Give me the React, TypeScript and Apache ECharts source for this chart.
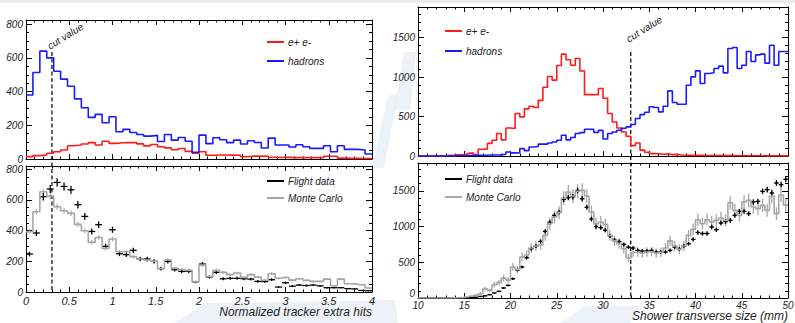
import React, { useEffect, useRef } from "react";
import * as echarts from "echarts";

// Normalized tracker extra hits: 50 bins of width 0.08 starting at 0
const trackerStart = 0;
const trackerBinWidth = 0.08;
const trackerCut = 0.3;
const trackerElectrons = [
  14, 20, 24, 34, 43, 53, 79, 83, 89, 97,
  83, 105, 93, 96, 98, 97, 90, 78, 86, 73,
  66, 55, 62, 45, 34, 43, 22, 24, 24, 23,
  22, 13, 17, 18, 16, 10, 9, 10, 8, 9,
  8, 9, 7, 16, 16, 5, 4, 4, 3, 3,
];
const trackerHadrons = [
  380, 513, 640, 600, 521, 474, 432, 357, 304, 247,
  265, 215, 251, 162, 176, 157, 145, 136, 140, 104,
  145, 112, 128, 105, 40, 142, 91, 126, 114, 97,
  112, 89, 108, 98, 65, 124, 83, 83, 71, 85,
  73, 63, 63, 79, 43, 79, 57, 57, 53, 30,
];
const trackerFlight = [
  247, 384, 620, 670, 713, 687, 665, 568, 492, 394,
  438, 297, 405, 249, 243, 271, 215, 215, 199, 152,
  199, 145, 134, 134, 65, 182, 97, 128, 86, 89,
  89, 86, 84, 69, 68, 80, 32, 60, 38, 45,
  42, 45, 40, 28, 28, 28, 22, 20, 10, 8,
];
const trackerMonteCarlo = [
  392, 522, 652, 624, 555, 529, 512, 440, 399, 323,
  355, 284, 345, 262, 262, 230, 215, 208, 200, 153,
  208, 154, 146, 141, 66, 175, 100, 141, 128, 113,
  124, 95, 113, 97, 76, 119, 89, 94, 77, 86,
  76, 69, 69, 84, 41, 84, 54, 52, 47, 26,
];

// Shower transverse size (mm): 80 bins of width 0.5 mm starting at 10
const showerStart = 10;
const showerBinWidth = 0.5;
const showerCut = 33;
const showerElectrons = [
  0, 0, 0, 0, 2, 3, 8, 5, 14, 16,
  26, 36, 16, 85, 90, 160, 200, 285, 205, 356,
  348, 539, 496, 598, 632, 615, 705, 872, 1008, 962,
  1148, 1292, 1220, 1152, 1237, 1078, 778, 778, 778, 856,
  732, 539, 432, 356, 305, 250, 132, 165, 75, 48,
  30, 28, 22, 26, 18, 20, 12, 10, 9, 8,
  8, 7, 7, 6, 6, 5, 5, 5, 4, 4,
  4, 3, 3, 3, 3, 2, 2, 2, 2, 2,
];
const showerHadrons = [
  0, 0, 0, 0, 0, 0, 2, 2, 4, 5,
  6, 8, 8, 10, 9, 12, 12, 14, 22, 50,
  40, 38, 93, 68, 115, 120, 150, 150, 165, 178,
  200, 263, 205, 234, 285, 297, 339, 339, 300, 325,
  215, 285, 305, 327, 352, 369, 399, 475, 525, 555,
  625, 615, 560, 632, 826, 678, 657, 657, 898, 1004,
  1080, 920, 1047, 1055, 1110, 1140, 1055, 1364, 1377, 1110,
  1152, 1325, 1199, 1283, 1292, 1178, 1405, 1152, 1325, 1325,
];
const showerFlight = [
  0, 0, 0, 0, 0, 0, 0, 0, 2, 3,
  3, 5, 10, 22, 30, 46, 70, 93, 140, 177,
  270, 390, 434, 564, 690, 728, 793, 933, 1060, 1157,
  1202, 1380, 1405, 1418, 1505, 1390, 1270, 1105, 1000, 985,
  950, 870, 810, 790, 750, 712, 700, 667, 658, 658,
  667, 644, 644, 644, 667, 714, 686, 728, 761, 821,
  917, 903, 903, 994, 957, 1050, 1070, 1087, 1157, 1213,
  1213, 1181, 1344, 1353, 1493, 1517, 1470, 1610, 1587, 1661,
];
const showerMonteCarlo = [
  0, 0, 0, 0, 0, 0, 0, 2, 3, 5,
  15, 25, 37, 60, 130, 107, 187, 215, 278, 250,
  434, 397, 574, 603, 700, 728, 747, 877, 1041, 1134,
  1195, 1400, 1484, 1428, 1495, 1507, 1425, 1204, 1041, 1064,
  1031, 877, 800, 761, 690, 560, 640, 644, 627, 644,
  650, 630, 640, 700, 800, 730, 681, 728, 877, 961,
  1096, 1040, 1096, 1064, 1087, 1119, 1087, 1335, 1227, 1157,
  1344, 1367, 1274, 1251, 1297, 1227, 1429, 1181, 1443, 1300,
];

const legendSpecies = ["e+ e-", "hadrons"];
const legendCompare = ["Flight data", "Monte Carlo"];
const trackerTitle = "Normalized tracker extra hits";
const showerTitle = "Shower transverse size (mm)";
const cutLabel = "cut value";

const RED = "#ff1a1a";
const BLUE = "#1a1aff";
const GREY = "#a6a6a6";
const INK = "#000000";
const TEXT = "#222222";
const FONT = '"Liberation Sans", Arial, Helvetica, sans-serif';

// relative size of the simulated-sample error bars (statistical, scaled)
const trackerMcErrScale = 0.8;
const showerMcErrScale = 2.6;

function stepPoints(start: number, width: number, values: number[]) {
  const pts = values.map((v, i) => [start + i * width, v]);
  pts.push([start + values.length * width, values[values.length - 1]]);
  return pts;
}

function crossPoints(start: number, width: number, values: number[]) {
  return values.map((v, i) => [start + i * width, start + (i + 1) * width, v, Math.sqrt(v)]);
}

function errPoints(start: number, width: number, values: number[], scale: number) {
  return values.map((v, i) => [start + (i + 0.5) * width, v, scale * Math.sqrt(v)]);
}

function crossRender(color: string, lw: number) {
  return (_p: any, api: any) => {
    const x0 = api.value(0);
    const x1 = api.value(1);
    const y = api.value(2);
    const e = api.value(3);
    const a = api.coord([x0, y]);
    const b = api.coord([x1, y]);
    const t = api.coord([(x0 + x1) / 2, y + e]);
    const d = api.coord([(x0 + x1) / 2, y - e]);
    const style = { stroke: color, lineWidth: lw };
    return {
      type: "group",
      children: [
        { type: "line", shape: { x1: a[0], y1: a[1], x2: b[0], y2: b[1] }, style },
        { type: "line", shape: { x1: t[0], y1: t[1], x2: d[0], y2: d[1] }, style },
      ],
    };
  };
}

function errRender(color: string, lw: number) {
  return (_p: any, api: any) => {
    const x = api.value(0);
    const y = api.value(1);
    const e = api.value(2);
    const t = api.coord([x, y + e]);
    const d = api.coord([x, y - e]);
    return {
      type: "line",
      shape: { x1: t[0], y1: t[1], x2: d[0], y2: d[1] },
      style: { stroke: color, lineWidth: lw },
    };
  };
}

function axis(
  kind: "x" | "y",
  gridIndex: number,
  position: string,
  min: number,
  max: number,
  interval: number,
  minorSplit: number,
  label: any,
  extra: any = {}
) {
  const tickLen = kind === "x" ? 5 : 6;
  return {
    type: "value",
    gridIndex,
    position,
    min,
    max,
    interval,
    axisLine: { show: true, onZero: false, lineStyle: { color: INK, width: 1 } },
    axisTick: { show: true, inside: true, length: tickLen, lineStyle: { color: INK, width: 1 } },
    minorTick: { show: true, splitNumber: minorSplit, length: tickLen / 2, lineStyle: { color: INK, width: 1 } },
    splitLine: { show: false },
    minorSplitLine: { show: false },
    axisLabel: label
      ? {
          show: true,
          inside: false,
          margin: label.margin,
          fontSize: label.size,
          fontStyle: "italic",
          fontFamily: FONT,
          color: TEXT,
          showMinLabel: true,
          showMaxLabel: label.showMax !== false,
          ...(label.lift ? { verticalAlignMinLabel: "bottom" } : {}),
          formatter: (v: number) => (Math.abs(v / interval - Math.round(v / interval)) < 1e-6 ? String(v) : ""),
        }
      : { show: false },
    ...extra,
  };
}

function titleName(text: string, size: number, pad: number) {
  return {
    name: text,
    nameLocation: "end",
    nameGap: 0,
    nameMoveOverlap: false,
    nameTextStyle: {
      fontSize: size,
      fontStyle: "italic",
      fontFamily: FONT,
      color: TEXT,
      align: "right",
      verticalAlign: "top",
      padding: [pad, 0, 0, 0],
    },
  };
}

function lineSeries(x: number, y: number, data: number[][], color: string, width: number) {
  return {
    type: "line",
    xAxisIndex: x,
    yAxisIndex: y,
    step: "end",
    data,
    symbol: "none",
    showSymbol: false,
    clip: true,
    silent: true,
    lineStyle: { color, width },
  };
}

function buildOption() {
  const xLab = { margin: 3, size: 11 };
  const xLabR = { margin: 2, size: 10 };
  const yLab = (showMax: boolean, lift = false) => ({ margin: 3, size: 10, showMax, lift });
  const box = (left: number, top: number, width: number, height: number) => ({
    left,
    top,
    width,
    height,
    containLabel: false,
    outerBoundsMode: "none",
  });

  return {
    animation: false,
    backgroundColor: "#ffffff",
    grid: [box(26, 20, 346, 139), box(26, 166, 346, 126), box(418, 7, 370, 149), box(418, 163, 370, 135)],
    xAxis: [
      axis("x", 0, "bottom", 0, 4, 0.5, 5, null),
      axis("x", 0, "top", 0, 4, 0.5, 5, null),
      axis("x", 1, "bottom", 0, 4, 0.5, 5, xLab, titleName(trackerTitle, 12, 14)),
      axis("x", 1, "top", 0, 4, 0.5, 5, null),
      axis("x", 2, "bottom", 10, 50, 5, 5, null),
      axis("x", 2, "top", 10, 50, 5, 5, null),
      axis("x", 3, "bottom", 10, 50, 5, 5, xLabR, titleName(showerTitle, 12, 12)),
      axis("x", 3, "top", 10, 50, 5, 5, null),
    ],
    yAxis: [
      axis("y", 0, "left", 0, 825, 200, 4, yLab(false)),
      axis("y", 0, "right", 0, 825, 200, 4, null),
      axis("y", 1, "left", 0, 820, 200, 4, yLab(false)),
      axis("y", 1, "right", 0, 820, 200, 4, null),
      axis("y", 2, "left", 0, 1890, 500, 5, yLab(false)),
      axis("y", 2, "right", 0, 1890, 500, 5, null),
      axis("y", 3, "left", 0, 1890, 500, 5, yLab(false, true)),
      axis("y", 3, "right", 0, 1890, 500, 5, null),
    ],
    series: [
      lineSeries(0, 0, stepPoints(trackerStart, trackerBinWidth, trackerElectrons), RED, 1.6),
      lineSeries(0, 0, stepPoints(trackerStart, trackerBinWidth, trackerHadrons), BLUE, 1.6),
      lineSeries(2, 2, stepPoints(trackerStart, trackerBinWidth, trackerMonteCarlo), GREY, 1.6),
      {
        type: "custom",
        xAxisIndex: 2,
        yAxisIndex: 2,
        clip: true,
        silent: true,
        data: errPoints(trackerStart, trackerBinWidth, trackerMonteCarlo, trackerMcErrScale),
        encode: { x: 0, y: 1 },
        renderItem: errRender(GREY, 1.2),
      },
      {
        type: "custom",
        xAxisIndex: 2,
        yAxisIndex: 2,
        clip: true,
        silent: true,
        data: crossPoints(trackerStart, trackerBinWidth, trackerFlight),
        encode: { x: [0, 1], y: 2 },
        renderItem: crossRender(INK, 1.3),
      },
      lineSeries(4, 4, stepPoints(showerStart, showerBinWidth, showerElectrons), RED, 1.6),
      lineSeries(4, 4, stepPoints(showerStart, showerBinWidth, showerHadrons), BLUE, 1.6),
      lineSeries(6, 6, stepPoints(showerStart, showerBinWidth, showerMonteCarlo), GREY, 1.6),
      {
        type: "custom",
        xAxisIndex: 6,
        yAxisIndex: 6,
        clip: true,
        silent: true,
        data: errPoints(showerStart, showerBinWidth, showerMonteCarlo, showerMcErrScale),
        encode: { x: 0, y: 1 },
        renderItem: errRender(GREY, 1.3),
      },
      {
        type: "custom",
        xAxisIndex: 6,
        yAxisIndex: 6,
        clip: true,
        silent: true,
        data: crossPoints(showerStart, showerBinWidth, showerFlight),
        encode: { x: [0, 1], y: 2 },
        renderItem: crossRender(INK, 1.4),
      },
    ],
  };
}

function legendEntry(x: number, y: number, color: string, text: string, lw: number) {
  return [
    { type: "line", silent: true, shape: { x1: x, y1: y, x2: x + 17, y2: y }, style: { stroke: color, lineWidth: lw } },
    {
      type: "text",
      silent: true,
      x: x + 21,
      y,
      style: { text, fontSize: 10, fontStyle: "italic", fontFamily: FONT, fill: TEXT, align: "left", verticalAlign: "middle" },
    },
  ];
}

// faint background bands of the page the figure was printed on
const backdrop = [
  [[372, 168], [388, 95], [398, 95], [384, 168]],
  [[394, 110], [404, 52], [416, 52], [410, 110]],
  [[175, 323], [205, 303], [395, 300], [398, 323]],
  [[560, 323], [585, 306], [640, 306], [630, 323]],
];

export default function App() {
  const ref = useRef<HTMLDivElement>(null);

  useEffect(() => {
    const el = ref.current;
    if (!el) return;
    const chart = echarts.init(el, undefined, { renderer: "svg" });
    chart.setOption(buildOption());

    const toX = (i: number, v: number) => chart.convertToPixel({ xAxisIndex: i }, v) as number;
    const toY = (i: number, v: number) => chart.convertToPixel({ yAxisIndex: i }, v) as number;

    // dashed cut markers run from the upper panel down through the lower one
    const tX = toX(0, trackerCut);
    const tTop = toY(0, 635);
    const tBot = toY(2, 0);
    const sX = toX(4, showerCut);
    const sTop = toY(4, 1320);
    const sBot = toY(6, 0);

    const dash = { stroke: INK, lineWidth: 1.2, lineDash: [4, 2.5] };
    const cutText = (x: number, y: number) => ({
      type: "text",
      silent: true,
      x,
      y,
      rotation: (32 * Math.PI) / 180,
      style: { text: cutLabel, fontSize: 10, fontStyle: "italic", fontFamily: FONT, fill: TEXT, align: "left", verticalAlign: "bottom" },
    });

    const elements: any[] = [
      ...backdrop.map((pts) => ({
        type: "polygon",
        silent: true,
        z: -10,
        shape: { points: pts },
        style: { fill: "rgba(214, 226, 240, 0.45)" },
      })),
      { type: "rect", silent: true, shape: { x: 0, y: 0, width: 795, height: 3 }, style: { fill: "#ebebeb" } },
      { type: "line", silent: true, shape: { x1: tX, y1: tTop, x2: tX, y2: tBot }, style: dash },
      { type: "line", silent: true, shape: { x1: sX, y1: sTop, x2: sX, y2: sBot }, style: dash },
      cutText(tX - 1, tTop - 1),
      cutText(sX - 1, sTop - 8),
      ...legendEntry(267, 42, RED, legendSpecies[0], 2),
      ...legendEntry(267, 61, BLUE, legendSpecies[1], 2),
      ...legendEntry(267, 181, INK, legendCompare[0], 2),
      ...legendEntry(267, 198, GREY, legendCompare[1], 2),
      ...legendEntry(445, 31, RED, legendSpecies[0], 2),
      ...legendEntry(445, 51, BLUE, legendSpecies[1], 2),
      ...legendEntry(445, 179, INK, legendCompare[0], 2),
      ...legendEntry(445, 197, GREY, legendCompare[1], 2),
    ];
    chart.setOption({ graphic: elements });

    return () => chart.dispose();
  }, []);

  return (
    <div
      ref={ref}
      style={{ position: "absolute", left: 0, top: 0, width: 795, height: 323, background: "#ffffff" }}
    />
  );
}
